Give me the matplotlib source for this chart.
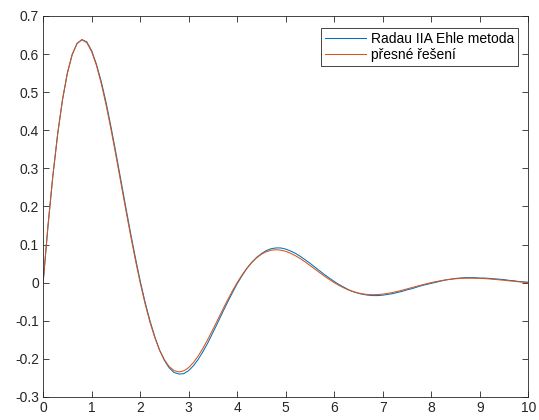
import matplotlib
matplotlib.use("Agg")
import matplotlib.pyplot as plt
import numpy as np

# values (step 0.1)
t = np.round(np.arange(0, 10.001, 0.1), 2)

radau = [0.0, 0.148, 0.279, 0.390, 0.480, 0.550, 0.599, 0.628, 0.638, 0.632,
         0.609, 0.573, 0.527, 0.472, 0.408, 0.341, 0.271, 0.201, 0.132, 0.067,
         0.005, -0.050, -0.099, -0.141, -0.177, -0.204, -0.224, -0.236, -0.240, -0.239,
         -0.231, -0.218, -0.201, -0.180, -0.157, -0.131, -0.105, -0.078, -0.052, -0.027,
         -0.003, 0.018, 0.037, 0.053, 0.066, 0.076, 0.084, 0.089, 0.091, 0.091,
         0.088, 0.083, 0.077, 0.069, 0.060, 0.051, 0.041, 0.031, 0.021, 0.012,
         0.003, -0.005, -0.012, -0.019, -0.024, -0.028, -0.031, -0.033, -0.034, -0.034,
         -0.033, -0.031, -0.029, -0.026, -0.023, -0.019, -0.016, -0.012, -0.008, -0.005,
         -0.002, 0.001, 0.004, 0.007, 0.009, 0.011, 0.012, 0.013, 0.013, 0.013,
         0.012, 0.012, 0.011, 0.010, 0.009, 0.008, 0.006, 0.005, 0.003, 0.002,
         0.001]

exact = [0.0, 0.1488, 0.2796, 0.3908, 0.4812, 0.5507, 0.5993, 0.6279, 0.6375, 0.6298,
         0.6065, 0.5698, 0.5220, 0.4651, 0.4017, 0.3340, 0.2641, 0.1940, 0.1256, 0.0605,
         0.0, -0.0547, -0.1029, -0.1437, -0.1771, -0.2026, -0.2205, -0.2310, -0.2345, -0.2317,
         -0.2231, -0.2096, -0.1920, -0.1711, -0.1478, -0.1229, -0.0972, -0.0714, -0.0462, -0.0223,
         0.0, 0.0201, 0.0378, 0.0529, 0.0651, 0.0745, 0.0811, 0.0850, 0.0863, 0.0852,
         0.0821, 0.0771, 0.0707, 0.0630, 0.0544, 0.0452, 0.0357, 0.0263, 0.0170, 0.0082,
         0.0, -0.0074, -0.0139, -0.0195, -0.0240, -0.0274, -0.0298, -0.0313, -0.0318, -0.0313,
         -0.0302, -0.0284, -0.0260, -0.0232, -0.0200, -0.0166, -0.0131, -0.0097, -0.0063, -0.0030,
         0.0, 0.0027, 0.0051, 0.0072, 0.0088, 0.0101, 0.0110, 0.0115, 0.0117, 0.0115,
         0.0111, 0.0105, 0.0096, 0.0085, 0.0074, 0.0061, 0.0048, 0.0036, 0.0023, 0.0011,
         0.0]

labels = ["Radau IIA Ehle metoda", "přesné řešení"]

plt.rcParams["font.family"] = ["Liberation Sans", "DejaVu Sans"]
axis_color = "#262626"

fig = plt.figure(figsize=(5.39, 4.2), dpi=100)
ax = fig.add_axes([0.080, 0.055, 0.900, 0.907])

ax.plot(t, radau, color="#0072BD", linewidth=0.75, label=labels[0])
ax.plot(t, exact, color="#D95319", linewidth=0.75, label=labels[1])

ax.set_xlim(0, 10)
ax.set_ylim(-0.3, 0.7)
yt = np.round(np.arange(-0.3, 0.71, 0.1), 1)
ax.set_xticks(np.arange(0, 11, 1))
ax.set_yticks(yt)
ax.set_yticklabels([f"{v:g}" for v in yt])
ax.tick_params(direction="in", top=True, right=True, length=4, width=0.6,
               colors=axis_color, labelsize=10, pad=3)
for s in ax.spines.values():
    s.set_color(axis_color)
    s.set_linewidth(0.6)

leg = ax.legend(loc="upper right", bbox_to_anchor=(0.979, 0.969), borderaxespad=0,
                fontsize=10, fancybox=False, framealpha=1, handlelength=3.0,
                handletextpad=0.3, borderpad=0.3, labelspacing=0.15)
leg.get_frame().set_edgecolor(axis_color)
leg.get_frame().set_linewidth(0.6)

fig.savefig("out.png", dpi=100)
